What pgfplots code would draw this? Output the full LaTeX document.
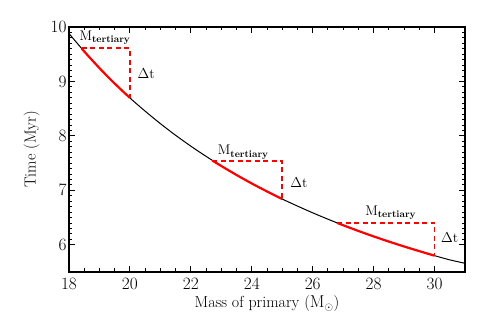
\documentclass[border=0pt]{standalone}
\usepackage{pgfplots}
\pgfplotsset{compat=1.18}
\begin{document}
\begin{tikzpicture}
\begin{axis}[
  scale only axis, width=396pt, height=245pt,
  xmin=18, xmax=31, ymin=5.5, ymax=10,
  xtick={18,20,...,30}, ytick={6,7,8,9,10},
  minor x tick num=3, minor y tick num=9,
  tick align=inside, major tick length=6pt, minor tick length=3.5pt,
  every tick/.style={black, line width=0.9pt},
  axis line style={line width=1.4pt},
  tick label style={font=\fontsize{16}{18}\selectfont},
  label style={font=\fontsize{16}{18}\selectfont},
  xlabel={Mass of primary ($\mathrm{M}_\odot$)},
  ylabel={Time (Myr)},
  xticklabel style={yshift=-3pt},
  xlabel style={yshift=1pt},
  ylabel style={yshift=4pt},
  yticklabel style={xshift=1pt},
  clip=false,
]
\addplot[black, line width=1pt, smooth] coordinates {
(18,9.880)(18.5,9.551)(19,9.245)(19.5,8.962)(20,8.697)(20.5,8.454)(21,8.225)
(21.5,8.011)(22,7.811)(22.5,7.624)(23,7.447)(23.5,7.282)(24,7.126)(24.5,6.980)
(25,6.840)(25.5,6.711)(26,6.587)(26.5,6.470)(27,6.359)(27.5,6.254)(28,6.154)
(28.5,6.059)(29,5.969)(29.5,5.883)(30,5.800)(30.5,5.723)(31,5.660)};
\addplot[red, line width=2.2pt, smooth] coordinates {
(18.42,9.607)(18.5,9.551)(19,9.245)(19.5,8.962)(20,8.697)};
\addplot[red, line width=2.2pt, smooth] coordinates {
(22.71,7.546)(23,7.447)(23.5,7.282)(24,7.126)(24.5,6.980)(25,6.840)};
\addplot[red, line width=2.2pt, smooth] coordinates {
(26.8,6.403)(27,6.359)(27.5,6.254)(28,6.154)(28.5,6.059)(29,5.969)(29.5,5.883)(30,5.800)};
\addplot[red, line width=1.8pt, dash pattern=on 5pt off 3.5pt] coordinates {
(18.42,9.607)(20,9.607)(20,8.697)};
\addplot[red, line width=1.8pt, dash pattern=on 5pt off 3.5pt] coordinates {
(22.71,7.546)(25,7.546)(25,6.840)};
\addplot[red, line width=1.8pt, dash pattern=on 5pt off 3.5pt] coordinates {
(26.8,6.403)(30,6.403)(30,5.800)};
\node[font=\fontsize{14}{16}\selectfont] at (axis cs:19.18,9.80) {M\textsubscript{\bfseries tertiary}};
\node[font=\fontsize{14}{16}\selectfont] at (axis cs:23.72,7.70) {M\textsubscript{\bfseries tertiary}};
\node[font=\fontsize{14}{16}\selectfont] at (axis cs:28.56,6.59) {M\textsubscript{\bfseries tertiary}};
\node[font=\fontsize{14}{16}\selectfont] at (axis cs:20.53,9.15) {$\Delta$t};
\node[font=\fontsize{14}{16}\selectfont] at (axis cs:25.55,7.15) {$\Delta$t};
\node[font=\fontsize{14}{16}\selectfont] at (axis cs:30.5,6.14) {$\Delta$t};
\end{axis}
\path ([xshift=-69pt,yshift=-55pt]current axis.south west) rectangle ([xshift=26pt,yshift=27pt]current axis.north east);
\end{tikzpicture}
\end{document}
